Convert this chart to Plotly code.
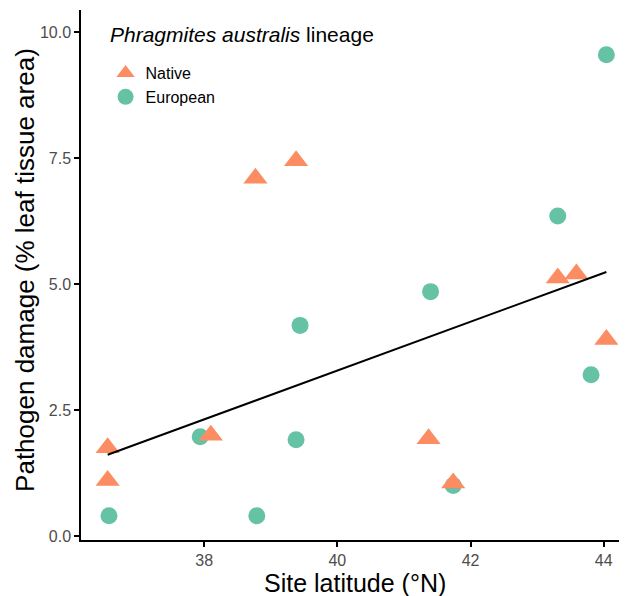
import numpy as np
import plotly.graph_objects as go

# ---- data ----
native_lat = [36.55, 36.55, 38.10, 38.77, 39.38, 41.37, 41.74, 43.31, 43.59, 44.04]
native_dmg = [1.75, 1.10, 2.00, 7.10, 7.45, 1.93, 1.05, 5.12, 5.20, 3.90]
euro_lat = [36.57, 37.94, 38.79, 39.44, 39.38, 41.40, 41.74, 43.31, 43.81, 44.04]
euro_dmg = [0.40, 1.97, 0.40, 4.18, 1.91, 4.85, 1.00, 6.35, 3.20, 9.55]

x_ticks = [38, 40, 42, 44]
y_ticks = [0.0, 2.5, 5.0, 7.5, 10.0]

NATIVE_COL = "#FC8D62"
EURO_COL = "#66C2A5"
FONT = "Liberation Sans, Arial, sans-serif"

# overall linear fit (all sites)
all_x = np.array(native_lat + euro_lat)
all_y = np.array(native_dmg + euro_dmg)
slope, intercept = np.polyfit(all_x, all_y, 1)
fit_x = np.sort(all_x)
fit_y = slope * fit_x + intercept

fig = go.Figure()
fig.add_trace(go.Scatter(
    x=euro_lat, y=euro_dmg, mode="markers", name="European",
    marker=dict(symbol="circle", size=17, color=EURO_COL, line=dict(width=0)),
    legendrank=2,
))
fig.add_trace(go.Scatter(
    x=native_lat, y=native_dmg, mode="markers", name="Native",
    marker=dict(symbol="triangle-up", size=21, color=NATIVE_COL, line=dict(width=0)),
    legendrank=1,
))
fig.add_trace(go.Scatter(
    x=fit_x, y=fit_y, mode="lines", showlegend=False,
    line=dict(color="black", width=2),
))

axis_common = dict(
    showline=True, linecolor="black", linewidth=1.5,
    ticks="outside", ticklen=5, tickwidth=1.5, tickcolor="black",
    showgrid=False, zeroline=False, mirror=False,
    tickfont=dict(family=FONT, size=16, color="#4D4D4D"),
)

fig.update_layout(
    width=619, height=588,
    margin=dict(l=73, r=0, t=2, b=56),
    paper_bgcolor="white", plot_bgcolor="white",
    font=dict(family=FONT, color="black"),
    xaxis=dict(range=[36.15, 44.35], tickvals=x_ticks, **axis_common),
    yaxis=dict(range=[-0.08, 10.44], tickvals=y_ticks, tickformat=".1f", **axis_common),
    legend=dict(
        x=0.045, y=0.913, xanchor="left", yanchor="top",
        bgcolor="rgba(0,0,0,0)",
        font=dict(family=FONT, size=16, color="black"),
        traceorder="normal",
    ),
    annotations=[
        dict(text="<i>Phragmites australis</i> lineage", xref="paper", yref="paper",
             x=0.049, y=0.953, xanchor="left", yanchor="middle",
             showarrow=False, font=dict(family=FONT, size=21, color="black")),
        dict(text="Site latitude (°N)", xref="paper", yref="paper",
             x=0.502, y=-0.081, xanchor="center", yanchor="middle",
             showarrow=False, font=dict(family=FONT, size=25, color="black")),
        dict(text="Pathogen damage (% leaf tissue area)", xref="paper", yref="paper",
             x=-0.104, y=0.51, xanchor="center", yanchor="middle", textangle=-90,
             showarrow=False, font=dict(family=FONT, size=26, color="black")),
    ],
)

fig.write_html("out.html")
